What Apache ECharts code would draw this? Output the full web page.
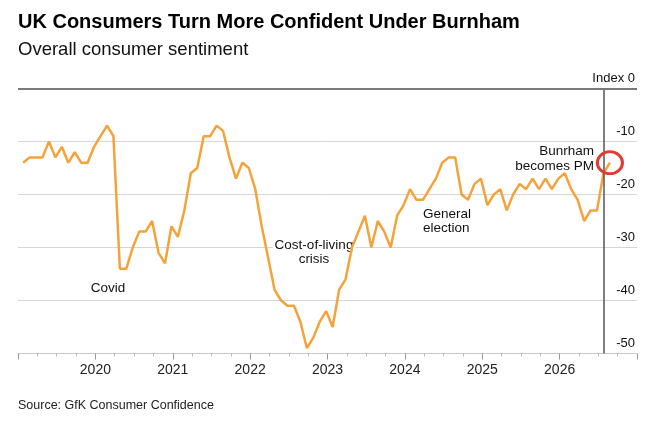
<!DOCTYPE html>
<html style="height: 100%">
<head>
<meta charset="utf-8">
<script src="https://cdn.jsdelivr.net/npm/echarts@6/dist/echarts.min.js"></script>
</head>
<body style="height: 100%; margin: 0; background: #fff">
<div id="container" style="width: 659px; height: 427px"></div>
<script type="text/javascript">

// GfK consumer confidence, monthly
var s2019 = [-14, -13, -13, -13, -10, -13, -11, -14, -12, -14, -14, -11];
var s2020 = [-9, -7, -9, -34, -34, -30, -27, -27, -25, -31, -33, -26];
var s2021 = [-28, -23, -16, -15, -9, -9, -7, -8, -13, -17, -14, -15];
var s2022 = [-19, -26, -32, -38, -40, -41, -41, -44, -49, -47, -44, -42];
var s2023 = [-45, -38, -36, -30, -27, -24, -30, -25, -27, -30, -24, -22];
var s2024 = [-19, -21, -21, -19, -17, -14, -13, -13, -20, -21, -18, -17];
var s2025 = [-22, -20, -19, -23, -20, -18, -19, -17, -19, -17, -19, -17];
var s2026 = [-16, -19, -21, -25, -23, -23, -16, -14];

var years = [2019, 2020, 2021, 2022, 2023, 2024, 2025, 2026];
var yearly = [s2019, s2020, s2021, s2022, s2023, s2024, s2025, s2026];
var yearLabels = [2020, 2021, 2022, 2023, 2024, 2025, 2026];
var yTicks = [-50, -40, -30, -20, -10, 0];

var FONT = '"Liberation Sans", Arial, sans-serif';

var points = [];
years.forEach(function (yr, i) {
  yearly[i].forEach(function (v, m) {
    points.push([yr + (m + 0.8) / 12, v]);
  });
});
var pmMonth = points[points.length - 2];   // Jul 2026
var lastPt = points[points.length - 1];

var dom = document.getElementById("container");
var myChart = echarts.init(dom, null, {renderer: 'canvas'});

var option = {
  animation: false,
  grid: {left: 18, right: 22, top: 88.5, bottom: 73.5},
  xAxis: {
    type: 'value',
    min: 2019,
    max: 2027,
    interval: 1,
    axisLine: {onZero: false, lineStyle: {color: '#c8c8c8', width: 1}},
    axisTick: {length: 6, lineStyle: {color: '#999'}},
    minorTick: {show: true, splitNumber: 4, length: 3, lineStyle: {color: '#bbb'}},
    splitLine: {show: false},
    axisLabel: {
      margin: 10,
      fontFamily: FONT,
      fontSize: 14,
      color: '#222',
      formatter: function (v) {
        return yearLabels.indexOf(v) >= 0 ? String(v) : '';
      }
    }
  },
  yAxis: {
    type: 'value',
    position: 'right',
    min: yTicks[0],
    max: yTicks[yTicks.length - 1],
    interval: 10,
    axisLine: {show: false},
    axisTick: {show: false},
    splitLine: {lineStyle: {color: '#d6d6d6', width: 1}},
    axisLabel: {
      inside: true,
      margin: 2,
      verticalAlign: 'bottom',
      padding: [0, 0, 4, 0],
      fontFamily: FONT,
      fontSize: 13,
      color: '#111',
      formatter: function (v) {
        return v === 0 ? 'Index 0' : String(v);
      }
    }
  },
  series: [{
    type: 'line',
    data: points,
    showSymbol: false,
    symbol: 'none',
    lineStyle: {color: '#f6a23a', width: 2.5},
    z: 3,
    markLine: {
      silent: true,
      symbol: ['none', 'none'],
      label: {show: false},
      data: [
        {xAxis: pmMonth[0], lineStyle: {color: '#555', width: 1.5, type: 'solid'}},
        {yAxis: 0, lineStyle: {color: '#7a7a7a', width: 2, type: 'solid'}}
      ]
    },
    markPoint: {
      silent: true,
      symbol: 'circle',
      symbolSize: [25, 22],
      label: {show: false},
      itemStyle: {color: 'rgba(0,0,0,0)', borderColor: '#e23b35', borderWidth: 3},
      data: [{coord: lastPt}]
    }
  }],
  graphic: [
    {type: 'text', x: 18, y: 22, style: {text: 'UK Consumers Turn More Confident Under Burnham', font: 'bold 20px ' + FONT, fill: '#000', verticalAlign: 'middle'}},
    {type: 'text', x: 18, y: 49.5, style: {text: 'Overall consumer sentiment', font: '18.5px ' + FONT, fill: '#111', verticalAlign: 'middle'}},
    {type: 'text', x: 18, y: 406, style: {text: 'Source: GfK Consumer Confidence', font: '12.5px ' + FONT, fill: '#222', verticalAlign: 'middle'}},
    {type: 'text', x: 108, y: 288, style: {text: 'Covid', font: '13.5px ' + FONT, fill: '#111', align: 'center', verticalAlign: 'middle'}},
    {type: 'text', x: 314, y: 252.5, z: 1, style: {text: 'Cost-of-living\ncrisis', font: '13.5px ' + FONT, lineHeight: 14, fill: '#111', align: 'center', verticalAlign: 'middle', backgroundColor: '#fff', padding: [0, 2]}},
    {type: 'text', x: 423, y: 221, style: {text: 'General\nelection', font: '13.5px ' + FONT, lineHeight: 14, fill: '#111', align: 'left', verticalAlign: 'middle'}},
    {type: 'text', x: 594, y: 159, style: {text: 'Bunrham\nbecomes PM', font: '13.5px ' + FONT, lineHeight: 14.5, fill: '#111', align: 'right', verticalAlign: 'middle'}}
  ]
};

myChart.setOption(option);

</script>
</body>
</html>
